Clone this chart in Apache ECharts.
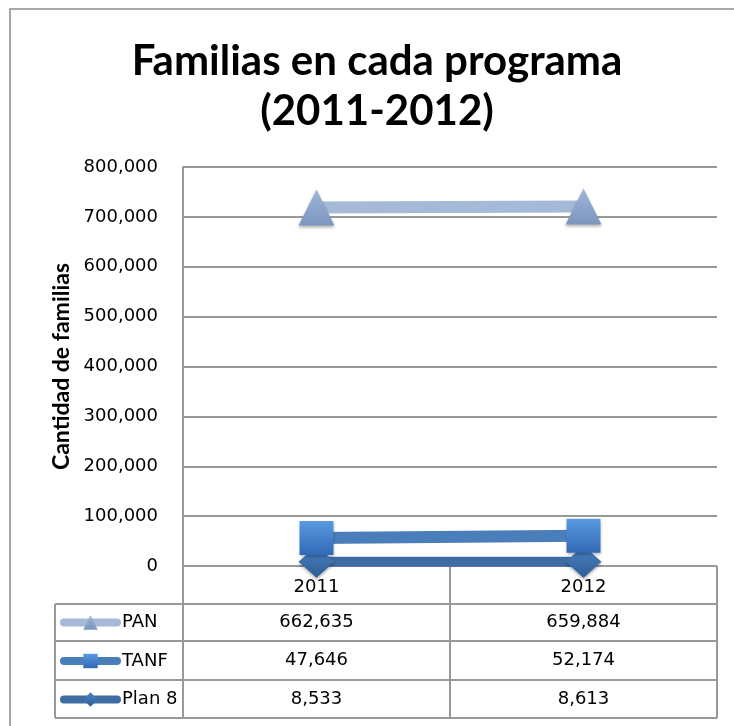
<!DOCTYPE html>
<html>
<head>
<meta charset="utf-8">
<script src="https://cdn.jsdelivr.net/npm/echarts@6/dist/echarts.min.js"></script>
<style>
html, body { margin: 0; padding: 0; background: #fff; }
#chart { width: 734px; height: 726px; }
</style>
</head>
<body>
<div id="chart"></div>
<script>
var years = ['2011', '2012'];
var seriesNames = ['PAN', 'TANF', 'Plan 8'];
var pan = [662635, 659884];
var tanf = [47646, 52174];
var plan8 = [8533, 8613];
var yMin = 0;
var yMax = 800000;
var yStep = 100000;

var chart = echarts.init(document.getElementById('chart'));

var gridColor = '#999999';
var plotLeft = 183, plotRight = 717, plotTop = 167, plotBottom = 566;
var rowLines = [566, 604, 641, 680, 718];
var tableLeft = 55;

function fmt(v) {
    return v.toString().replace(/\B(?=(\d{3})+(?!\d))/g, ',');
}

function grad(top, bottom) {
    return new echarts.graphic.LinearGradient(0, 0, 0, 1, [
        { offset: 0, color: top },
        { offset: 1, color: bottom }
    ]);
}

var shadow = { shadowBlur: 3, shadowOffsetY: 2, shadowColor: 'rgba(0,0,0,0.3)' };

var option = {
    animation: false,
    grid: {
        left: plotLeft,
        right: 734 - plotRight,
        top: plotTop,
        bottom: 726 - plotBottom
    },
    legend: {
        orient: 'vertical',
        left: 60,
        top: 613.5,
        padding: 0,
        itemWidth: 53,
        itemHeight: 18,
        itemGap: 20.5,
        selectedMode: false,
        data: seriesNames,
        textStyle: { fontFamily: 'DejaVu Sans', fontSize: 18, lineHeight: 18, color: '#000' },
        lineStyle: { width: 8, cap: 'round' }
    },
    xAxis: {
        type: 'category',
        data: years,
        boundaryGap: true,
        axisTick: { show: false },
        axisLine: { show: false },
        axisLabel: { margin: 12, fontFamily: 'DejaVu Sans', fontSize: 18, color: '#000' }
    },
    yAxis: {
        type: 'value',
        min: yMin,
        max: yMax,
        interval: yStep,
        name: 'Cantidad de familias',
        nameLocation: 'middle',
        nameRotate: 90,
        nameGap: 110,
        nameTextStyle: { fontFamily: 'Lato', fontWeight: 'bold', fontSize: 23, color: '#000' },
        axisLine: { show: true, lineStyle: { color: gridColor, width: 2 } },
        axisTick: { show: false },
        axisLabel: {
            margin: 25,
            fontFamily: 'DejaVu Sans',
            fontSize: 18,
            color: '#000',
            formatter: function (v) { return fmt(v); }
        },
        splitLine: { lineStyle: { color: gridColor, width: 2 } }
    },
    series: [
        {
            name: 'Plan 8',
            type: 'line',
            stack: 'total',
            data: plan8,
            symbol: 'diamond',
            symbolSize: [36, 32],
            lineStyle: { color: '#3e6ca3', width: 10 },
            itemStyle: Object.assign({ color: grad('#4a82c4', '#2f5d95') }, shadow)
        },
        {
            name: 'TANF',
            type: 'line',
            stack: 'total',
            data: tanf,
            symbol: 'rect',
            symbolSize: 34,
            lineStyle: { color: '#4a7ebb', width: 12 },
            itemStyle: Object.assign({ color: grad('#5a9ae0', '#3169b5') }, shadow)
        },
        {
            name: 'PAN',
            type: 'line',
            stack: 'total',
            data: pan,
            symbol: 'triangle',
            symbolSize: [36, 36],
            lineStyle: { color: '#a5b9d9', width: 12 },
            itemStyle: Object.assign({ color: grad('#9fb6da', '#7d96bd') }, shadow)
        }
    ]
};

chart.setOption(option);

// tabla de datos debajo del gráfico
var colX = years.map(function (y) { return chart.convertToPixel({ xAxisIndex: 0 }, y); });
var colSep = (colX[0] + colX[1]) / 2;
var rows = [pan, tanf, plan8];
var els = [];

els.push({
    type: 'rect', silent: true,
    shape: { x: 10, y: 9, width: 800, height: 800 },
    style: { fill: 'none', stroke: '#8c8c8c', lineWidth: 1.5 }
});
els.push({
    type: 'text', x: 377, y: 86,
    style: {
        text: 'Familias en cada programa\n(2011-2012)',
        font: 'bold 42px Lato', fill: '#000',
        textAlign: 'center', textVerticalAlign: 'middle', lineHeight: 50
    }
});

var lineStyle = { stroke: gridColor, lineWidth: 2 };
rowLines.forEach(function (y, i) {
    if (i === 0) return;
    els.push({ type: 'line', silent: true, shape: { x1: tableLeft, y1: y, x2: plotRight, y2: y }, style: lineStyle });
});
els.push({ type: 'line', silent: true, shape: { x1: tableLeft, y1: rowLines[1], x2: tableLeft, y2: rowLines[4] }, style: lineStyle });
[plotLeft, colSep, plotRight].forEach(function (x) {
    els.push({ type: 'line', silent: true, shape: { x1: x, y1: rowLines[0], x2: x, y2: rowLines[4] }, style: lineStyle });
});

rows.forEach(function (vals, r) {
    var cy = (rowLines[r + 1] + rowLines[r + 2]) / 2;
    vals.forEach(function (v, c) {
        els.push({
            type: 'text', x: colX[c], y: cy, silent: true,
            style: {
                text: fmt(v), font: '18px "DejaVu Sans"', fill: '#000',
                textAlign: 'center', textVerticalAlign: 'middle'
            }
        });
    });
});

chart.setOption({ graphic: { elements: els } });
</script>
</body>
</html>
